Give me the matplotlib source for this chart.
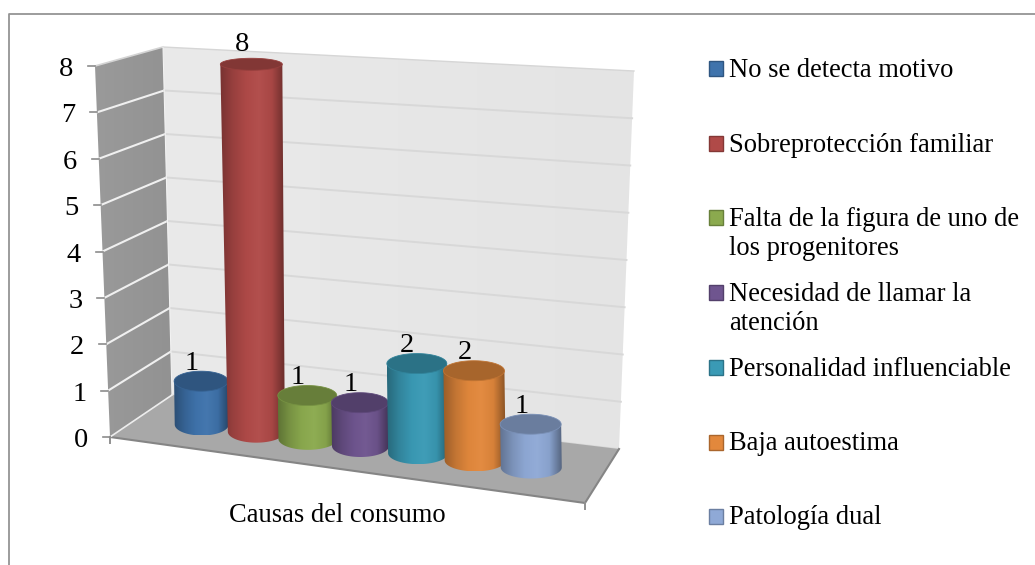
import numpy as np
import matplotlib
matplotlib.use("Agg")
import matplotlib.pyplot as plt
from matplotlib.path import Path
from matplotlib.patches import PathPatch, Polygon, Rectangle
from matplotlib.colors import LinearSegmentedColormap

categories = ["No se detecta motivo", "Sobreprotección familiar",
              "Falta de la figura de uno de\nlos progenitores",
              "Necesidad de llamar la\natención",
              "Personalidad influenciable", "Baja autoestima", "Patología dual"]
values = [1, 8, 1, 1, 2, 2, 1]
colors = ["#3F73AC", "#B04A48", "#8BAA4E", "#6F558F", "#3A9AB5", "#E2883C", "#8FA9D6"]
y_ticks = [0, 1, 2, 3, 4, 5, 6, 7, 8]
x_title = "Causas del consumo"

W, H = 1035, 565
fig = plt.figure(figsize=(W / 100, H / 100), dpi=100, facecolor="white")
ax = fig.add_axes([0, 0, 1, 1])
ax.set_xlim(0, W)
ax.set_ylim(H, 0)
ax.axis("off")
FONT = "Liberation Serif"
FS = 19.1
FSN = 20.5

# scene frame of the pseudo-3D chart
FL, FR, BR, BL = (110, 437), (585, 503), (619, 449), (172, 395)
TF, TB, TR = (95, 66), (163, 47), (634, 71)
VMAX = 8.0
UNIT = 46.3
BASE_OFFSET = -3.0


def mix(a, b, t):
    return (a[0] + (b[0] - a[0]) * t, a[1] + (b[1] - a[1]) * t)


def floor(u, d):
    return mix(mix(FL, FR, u), mix(BL, BR, u), d)


def shade(c, f):
    rgb = np.array(matplotlib.colors.to_rgb(c))
    return tuple(np.clip(rgb * f if f <= 1 else rgb + (1 - rgb) * (f - 1), 0, 1))


def grad_poly(pts, cmap, extent, z=1):
    path = Path(list(pts) + [pts[0]], closed=True)
    patch = PathPatch(path, fc="none", ec="none", zorder=z, transform=ax.transData)
    ax.add_patch(patch)
    g = np.linspace(0, 1, 256)[None, :]
    im = ax.imshow(g, cmap=cmap, extent=extent, aspect="auto", zorder=z, interpolation="bilinear")
    im.set_clip_path(patch)
    ax.set_xlim(0, W)
    ax.set_ylim(H, 0)


# outer frame: only the top and left rules are visible
ax.plot([8.5, 8.5, W], [H, 13.5, 13.5], color="#949494", lw=1.3, zorder=0)

# walls
wall = LinearSegmentedColormap.from_list("w", ["#EAEAEA", "#E4E4E4"])
grad_poly([TB, TR, BR, BL], wall, (163, 634, 450, 47), 1)
left = LinearSegmentedColormap.from_list("l", ["#9A9A9A", "#929292"])
grad_poly([TF, TB, BL, FL], left, (95, 172, 437, 47), 1)
ax.plot([TF[0], TB[0]], [TF[1], TB[1]], color="#D4D4D4", lw=1.2, zorder=1.5)
ax.plot([TB[0], TR[0]], [TB[1], TR[1]], color="#D6D6D6", lw=1.0, zorder=1.5)
ax.plot([TB[0], BL[0]], [TB[1], BL[1]], color="#F2F2F2", lw=0.8, zorder=1.5)

# floor
ax.add_patch(Polygon([FL, FR, BR, BL], closed=True, fc="#A8A8A8", ec="none", zorder=2))
ax.plot([FL[0], FR[0], BR[0]], [FL[1], FR[1], BR[1]], color="#858585", lw=1.5, zorder=3)
ax.plot([BL[0], FL[0]], [BL[1], FL[1]], color="#EDEDED", lw=1.2, zorder=3)
ax.plot([BL[0], BR[0]], [BL[1], BR[1]], color="#D8D8D8", lw=1.0, zorder=1.5)
ax.plot([FR[0], FR[0]], [FR[1], FR[1] + 6], color="#909090", lw=1.4, zorder=3)
ax.plot([FL[0], FL[0]], [FL[1], FL[1] + 6], color="#909090", lw=1.4, zorder=3)

# gridlines and ticks
for t in y_ticks:
    f = t / VMAX
    a = mix(FL, TF, f)
    b = mix(BL, TB, f)
    c = mix(BR, TR, f)
    if 0 < t < VMAX:
        ax.plot([a[0], b[0]], [a[1], b[1]], color="#F0F0F0", lw=1.5, zorder=1.4)
        ax.plot([b[0], c[0]], [b[1], c[1]], color="#D8D8D8", lw=1.4, zorder=1.4)
    ax.plot([a[0] - 7, a[0]], [a[1], a[1]], color="#8C8C8C", lw=1.2, zorder=3)
    ax.text(a[0] - 29, a[1] + 10, str(t), ha="center", va="baseline", family=FONT, fontsize=FSN, color="black")

# cylinders
DU = 0.1195
U0 = 0.5 - 3 * DU
nudges = [-4.5, -5, -8.5, -11, -8.5, -6.5, -5.5]
widths = [54, 57, 59, 57, 60, 61, 61]
for i, (val, col) in enumerate(zip(values, colors)):
    bx, by = floor(U0 + i * DU, 0.5)
    bx += nudges[i]
    h = val * UNIT + BASE_OFFSET
    w = widths[i] / 2
    tx = bx - 5 * val / 8
    ty = by - h
    ry_b = 11
    ry_t = 10 - (val > 4) * 4
    w_t = w + (val > 4) * 2.5
    pts = [(tx - w_t, ty), (tx + w_t, ty)] + [(bx + w * np.cos(a), by + ry_b * np.sin(a))
                                              for a in np.linspace(0, np.pi, 60)]
    body = LinearSegmentedColormap.from_list(
        "b", [shade(col, .68), shade(col, .86), shade(col, .98), shade(col, 1.03), shade(col, .95), shade(col, .6)])
    z = 5 + i * 0.1
    grad_poly(pts, body, (min(tx - w_t, bx - w), max(tx + w_t, bx + w), by + ry_b, ty), z)
    a = np.linspace(0, 2 * np.pi, 80)
    lid = np.c_[tx + w_t * np.cos(a), ty + ry_t * np.sin(a)]
    ax.add_patch(Polygon(lid, closed=True, fc=shade(col, .74), ec=shade(col, .85), lw=0.6, zorder=z + 0.01))
    ax.text(tx - 9.5, ty - 11.5 - (val > 4) * 2, str(val), ha="center", va="baseline", family=FONT,
            fontsize=FSN, color="black", zorder=8)

ax.text(337, 522, x_title, ha="center", va="baseline", family=FONT, fontsize=FS, color="black")

# legend
leg_y = [68.5, 143, 217.5, 292.5, 367, 442, 516]
for lab, col, y in zip(categories, colors, leg_y):
    ax.add_patch(Rectangle((709, y - 7.5), 14, 15, fc=col, ec=shade(col, .75), lw=1, zorder=3))
    for j, ln in enumerate(lab.split("\n")):
        ax.text(729, y + 8.5 + j * 29, ln, ha="left", va="baseline", family=FONT, fontsize=FS, color="black")

fig.savefig("out.png", dpi=100)
